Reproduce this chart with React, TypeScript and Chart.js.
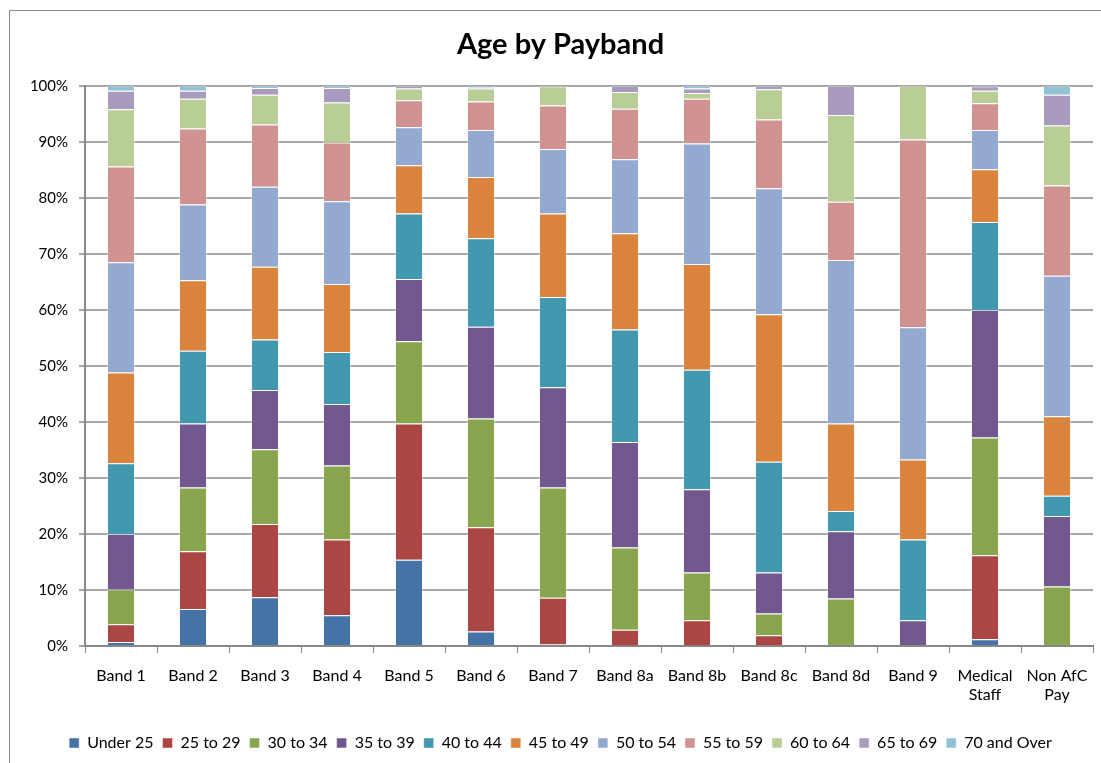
import React, { useEffect, useRef } from "react";
import { Chart, registerables } from "chart.js";

Chart.register(...registerables);

const categories: (string | string[])[] = [
  "Band 1", "Band 2", "Band 3", "Band 4", "Band 5", "Band 6", "Band 7",
  "Band 8a", "Band 8b", "Band 8c", "Band 8d", "Band 9",
  ["Medical", "Staff"], ["Non AfC", "Pay"],
];

const seriesNames = [
  "Under 25", "25 to 29", "30 to 34", "35 to 39", "40 to 44", "45 to 49",
  "50 to 54", "55 to 59", "60 to 64", "65 to 69", "70 and Over",
];

const seriesColors = [
  "#4572A7", "#AA4643", "#89A54E", "#71588F", "#4198AF", "#DB843D",
  "#93A9CF", "#D19392", "#B9CD96", "#A99BBD", "#92C3D5",
];

// values in percent, one array per age series, across the categories
const under25 = [0.7, 6.6, 8.7, 5.5, 15.4, 2.6, 0.3, 0.1, 0.1, 0.0, 0.0, 0.0, 1.2, 0.0];
const age25to29 = [3.2, 10.3, 13.1, 13.5, 24.3, 18.6, 8.3, 2.8, 4.5, 1.9, 0.0, 0.0, 15.0, 0.0];
const age30to34 = [6.2, 11.4, 13.3, 13.2, 14.7, 19.4, 19.7, 14.7, 8.5, 3.9, 8.5, 0.0, 21.0, 10.6];
const age35to39 = [9.9, 11.4, 10.6, 11.0, 11.1, 16.4, 17.9, 18.8, 14.9, 7.3, 12.0, 4.6, 22.8, 12.6];
const age40to44 = [12.6, 13.0, 9.0, 9.3, 11.7, 15.8, 16.1, 20.1, 21.3, 19.8, 3.6, 14.4, 15.7, 3.6];
const age45to49 = [16.2, 12.6, 13.0, 12.1, 8.6, 10.9, 14.9, 17.2, 18.9, 26.3, 15.6, 14.3, 9.4, 14.2];
const age50to54 = [19.7, 13.5, 14.3, 14.8, 6.8, 8.4, 11.5, 13.2, 21.5, 22.5, 29.2, 23.6, 7.0, 25.1];
const age55to59 = [17.1, 13.6, 11.1, 10.5, 4.8, 5.1, 7.8, 9.0, 8.0, 12.3, 10.4, 33.5, 4.8, 16.1];
const age60to64 = [10.2, 5.3, 5.3, 7.1, 2.1, 2.3, 3.4, 3.0, 1.0, 5.4, 15.5, 9.6, 2.2, 10.7];
const age65to69 = [3.3, 1.4, 1.2, 2.6, 0.5, 0.3, 0.1, 1.1, 0.8, 0.6, 5.2, 0.0, 0.8, 5.5];
const age70plus = [0.9, 0.9, 0.4, 0.4, 0.0, 0.2, 0.0, 0.0, 0.5, 0.0, 0.0, 0.0, 0.1, 1.6];

const seriesValues = [
  under25, age25to29, age30to34, age35to39, age40to44, age45to49,
  age50to54, age55to59, age60to64, age65to69, age70plus,
];

const yTicks = [0, 10, 20, 30, 40, 50, 60, 70, 80, 90, 100];

const FONT = "Lato, 'Open Sans', 'DejaVu Sans', sans-serif";

export default function App() {
  const ref = useRef<HTMLCanvasElement | null>(null);

  useEffect(() => {
    document.body.style.margin = "0";
    const canvas = ref.current;
    if (!canvas) return;
    const totals = categories.map((_, ci) =>
      seriesValues.reduce((s, arr) => s + arr[ci], 0)
    );
    const chart = new Chart(canvas, {
      type: "bar",
      data: {
        labels: categories,
        datasets: seriesNames.map((name, i) => ({
          label: name,
          data: seriesValues[i].map((v, ci) => (v / totals[ci]) * 100),
          backgroundColor: seriesColors[i],
          borderColor: "rgba(255,255,255,0.45)",
          borderWidth: 1,
          barPercentage: 0.39,
          categoryPercentage: 1,
        })),
      },
      options: {
        animation: false,
        responsive: false,
        maintainAspectRatio: false,
        layout: { padding: { left: 28, right: 8, top: 0, bottom: 2 } },
        plugins: {
          title: {
            display: true,
            text: "Age by Payband",
            color: "#000",
            font: { family: FONT, size: 29, weight: "bold" },
            padding: { top: 27, bottom: 24 },
          },
          legend: {
            position: "bottom",
            labels: {
              boxWidth: 10,
              boxHeight: 10,
              padding: 9,
              color: "#000",
              font: { family: FONT, size: 16 },
            },
          },
          tooltip: { enabled: false },
        },
        scales: {
          x: {
            stacked: true,
            afterFit: (scale: any) => {
              scale.height = 80;
            },
            grid: {
              offset: true,
              drawOnChartArea: false,
              drawTicks: true,
              tickLength: 7,
              color: "#888",
              lineWidth: 1,
            },
            border: { color: "#888", width: 2 },
            ticks: {
              color: "#000",
              font: { family: FONT, size: 16 },
              maxRotation: 0,
              autoSkip: false,
              padding: 13,
            },
          },
          y: {
            stacked: true,
            min: 0,
            max: 100,
            afterFit: (scale: any) => {
              scale.width = 57;
            },
            afterBuildTicks: (scale: any) => {
              scale.ticks = yTicks.map((v) => ({ value: v }));
            },
            grid: {
              color: "#a6a6a6",
              lineWidth: 2,
              tickLength: 6,
            },
            border: { color: "#888", width: 2 },
            ticks: {
              color: "#000",
              font: { family: FONT, size: 15 },
              padding: 11,
              callback: (v: any) => `${v}%`,
            },
          },
        },
      },
    });
    return () => chart.destroy();
  }, []);

  return (
    <div style={{ position: "relative", width: 1101, height: 763, background: "#fff", overflow: "hidden" }}>
      <div
        style={{
          position: "absolute",
          left: 9,
          top: 10,
          width: 1200,
          height: 900,
          border: "1px solid #8c8c8c",
          boxSizing: "border-box",
        }}
      />
      <canvas ref={ref} width={1101} height={763} style={{ position: "absolute", left: 0, top: 0, display: "block" }} />
    </div>
  );
}
